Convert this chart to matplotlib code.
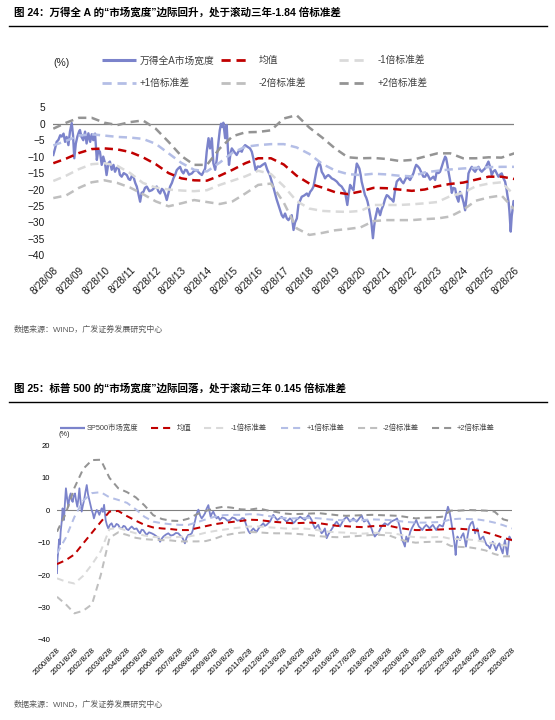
import matplotlib
matplotlib.use("Agg")
import matplotlib.pyplot as plt

plt.rcParams['font.family'] = ['Liberation Sans', 'Noto Sans CJK SC', 'DejaVu Sans']

# ---------------- Chart 1 data (x in years after 2008-08-28) ----------------
c1_xlabels = ['8/28/08', '8/28/09', '8/28/10', '8/28/11', '8/28/12', '8/28/13', '8/28/14',
              '8/28/15', '8/28/16', '8/28/17', '8/28/18', '8/28/19', '8/28/20', '8/28/21',
              '8/28/22', '8/28/23', '8/28/24', '8/28/25', '8/28/26']
c1_t = [0.00, 0.07, 0.13, 0.20, 0.27, 0.33, 0.40, 0.46, 0.52, 0.59, 0.65, 0.72, 0.77, 0.82, 0.88, 0.94,
        1.00, 1.04, 1.10, 1.17, 1.24, 1.30, 1.37, 1.44, 1.50, 1.56, 1.63, 1.70, 1.76, 1.82, 1.89, 1.95,
        2.02, 2.08, 2.15, 2.21, 2.28, 2.35, 2.41, 2.47, 2.54, 2.60, 2.67, 2.75, 2.87, 2.94, 3.00, 3.07,
        3.13, 3.20, 3.26, 3.33, 3.39, 3.45, 3.52, 3.58, 3.65, 3.75, 3.85, 3.95, 4.04, 4.10, 4.17, 4.24,
        4.30, 4.37, 4.43, 4.50, 4.56, 4.63, 4.69, 4.76, 4.82, 4.89, 4.95, 5.02, 5.08, 5.15, 5.21, 5.30,
        5.41, 5.50, 5.60, 5.70, 5.80, 5.87, 5.93, 5.99, 6.06, 6.12, 6.19, 6.25, 6.32, 6.38, 6.45, 6.50,
        6.55, 6.60, 6.64, 6.71, 6.77, 6.82, 6.86, 6.92, 6.97, 7.06, 7.16, 7.26, 7.36, 7.42, 7.49, 7.58,
        7.68, 7.75, 7.81, 7.90, 7.98, 8.07, 8.17, 8.27, 8.36, 8.45, 8.53, 8.60, 8.66, 8.72, 8.79, 8.86,
        8.92, 8.98, 9.05, 9.12, 9.18, 9.25, 9.31, 9.38, 9.44, 9.51, 9.57, 9.63, 9.70, 9.80, 9.90, 9.96,
        10.03, 10.10, 10.16, 10.22, 10.29, 10.35, 10.39, 10.44, 10.48, 10.55, 10.61, 10.67, 10.74, 10.80,
        10.87, 10.97, 11.07, 11.16, 11.26, 11.33, 11.39, 11.44, 11.48, 11.54, 11.59, 11.65, 11.72, 11.78,
        11.85, 11.90, 11.95, 12.00, 12.04, 12.10, 12.17, 12.22, 12.27, 12.32, 12.37, 12.42, 12.48, 12.53,
        12.57, 12.62, 12.66, 12.71, 12.76, 12.82, 12.89, 12.95, 13.02, 13.08, 13.15, 13.21, 13.28, 13.34,
        13.41, 13.48, 13.54, 13.60, 13.67, 13.74, 13.80, 13.86, 13.93, 14.00, 14.06, 14.12, 14.17, 14.24,
        14.30, 14.38, 14.45, 14.52, 14.58, 14.65, 14.71, 14.78, 14.84, 14.91, 14.97, 15.04, 15.10, 15.17,
        15.23, 15.30, 15.34, 15.39, 15.43, 15.49, 15.56, 15.62, 15.69, 15.75, 15.82, 15.88, 15.95, 16.02,
        16.08, 16.14, 16.21, 16.27, 16.34, 16.40, 16.47, 16.53, 16.60, 16.66, 16.73, 16.80, 16.86, 16.93,
        16.99, 17.05, 17.12, 17.18, 17.25, 17.31, 17.38, 17.44, 17.51, 17.57, 17.64, 17.69, 17.73, 17.78,
        17.81, 17.86, 17.90, 17.94, 17.97, 18.00]
c1_breadth = [-9.5, -7.5, -5.5, -4.9, -3.5, -3.9, -3.0, -5.5, -4.0, -6.5, -2.4, 0.2, -3.5, -10.5, -6.0, -3.9,
              -2.5, -1.9, -4.0, -5.0, -2.4, -6.0, -2.9, -5.5, -3.2, -5.0, -3.0, -11.0, -8.0, -8.5, -12.5, -10.0,
              -12.0, -15.6, -12.0, -11.5, -14.0, -12.5, -14.6, -13.5, -13.1, -15.5, -16.1, -15.0, -15.6, -16.8, -17.1, -15.8,
              -16.1, -18.0, -19.1, -21.5, -23.7, -21.0, -20.7, -19.5, -19.1, -20.5, -20.2, -19.5, -19.1, -20.5, -21.2, -19.8,
              -20.2, -21.5, -23.2, -21.0, -19.1, -18.0, -16.6, -15.5, -14.1, -13.5, -13.1, -14.5, -15.1, -14.0, -14.1, -15.5,
              -15.1, -14.3, -14.1, -15.0, -15.6, -14.5, -13.6, -8.5, -4.4, -7.5, -4.4, -12.0, -14.0, -11.0, -5.5, -2.0,
              0.0, -1.0, 0.3, -4.4, -0.4, -8.0, -12.5, -9.0, -7.5, -8.5, -9.5, -8.0, -8.5, -7.2, -6.5, -7.0,
              -7.5, -8.5, -10.5, -14.1, -13.0, -13.1, -12.5, -12.0, -14.1, -15.5, -17.6, -19.5, -21.2, -23.0, -24.7, -26.5,
              -27.8, -28.5, -27.3, -28.8, -29.3, -28.5, -27.8, -32.3, -30.0, -28.8, -24.7, -23.5, -22.2, -21.8, -21.2, -22.0,
              -20.7, -20.0, -19.1, -16.5, -13.6, -12.5, -11.7, -13.0, -14.6, -15.5, -16.6, -16.0, -15.6, -16.0,
              -16.6, -17.0, -17.6, -18.5, -19.1, -20.0, -20.7, -23.0, -24.7, -21.0, -18.6, -19.5, -20.2, -16.0,
              -12.1, -12.8, -13.6, -15.5, -17.6, -19.5, -21.7, -22.5, -23.7, -25.5, -27.8, -30.0, -34.8, -31.0,
              -28.8, -27.0, -25.7, -26.5, -27.8, -26.0, -24.7, -23.0, -21.7, -22.0, -22.7, -23.0, -23.7, -20.5,
              -17.6, -17.0, -16.6, -17.5, -18.1, -17.0, -16.1, -16.5, -17.1, -16.0, -15.1, -13.5, -12.5, -13.0,
              -13.6, -15.0, -16.1, -16.1, -15.1, -16.0, -17.0, -16.5, -16.1, -17.1, -14.6, -15.0, -14.6, -13.0,
              -11.5, -10.0, -10.5, -12.6, -14.6, -17.1, -21.0, -19.5, -19.7, -22.2, -23.7, -20.7, -22.0, -24.0,
              -26.3, -22.0, -15.1, -14.0, -13.1, -14.0, -14.6, -13.8, -13.1, -14.0, -14.6, -14.0, -13.6, -12.5,
              -11.5, -13.0, -15.6, -14.5, -14.1, -15.0, -16.1, -15.5, -15.1, -16.5, -17.6, -19.5, -21.7, -24.0,
              -26.7, -32.8, -28.0, -25.7, -23.5, -23.7]

c1_band_t = [0, 0.5, 1, 1.5, 2, 2.5, 3, 3.5, 4, 4.5, 5, 5.5, 6, 6.5, 7, 7.5, 8, 8.5, 9, 9.5,
             10, 10.5, 11, 11.5, 12, 12.5, 13, 13.5, 14, 14.5, 15, 15.5, 16, 16.5, 17, 17.5, 18]
c1_mean = [-12.0, -10.6, -8.9, -7.7, -7.5, -7.8, -8.6, -10.2, -12.3, -15.0, -16.6, -17.2, -17.3, -15.8,
           -14.0, -12.0, -10.5, -10.5, -12.4, -15.8, -18.2, -19.4, -20.8, -21.4, -20.6, -19.5, -19.6,
           -20.0, -20.4, -20.0, -19.0, -18.3, -17.9, -17.0, -16.1, -16.1, -16.8]
c1_minus1 = [-17.4, -15.8, -13.8, -12.3, -12.0, -12.8, -15.0, -18.0, -19.4, -20.0, -20.3, -20.5, -20.2,
             -18.6, -17.3, -16.0, -14.3, -15.3, -19.0, -23.5, -25.8, -26.5, -26.7, -26.8, -26.5, -24.7,
             -24.7, -24.7, -24.5, -24.2, -23.8, -22.0, -21.0, -19.0, -18.2, -17.8, -21.7]
c1_plus1 = [-6.6, -5.2, -3.6, -3.2, -3.6, -4.0, -4.2, -4.6, -6.1, -9.0, -11.9, -14.0, -14.5, -11.8,
            -8.8, -7.0, -6.5, -6.2, -6.2, -7.2, -9.2, -12.2, -14.2, -15.3, -15.6, -15.2, -15.4, -15.8,
            -16.0, -14.8, -14.3, -13.9, -13.6, -13.4, -13.2, -13.1, -13.1]
c1_minus2 = [-22.6, -21.8, -19.5, -17.8, -17.2, -18.0, -19.4, -21.4, -23.6, -25.1, -24.2, -23.2, -23.8,
             -24.4, -23.6, -21.2, -18.6, -18.2, -24.0, -31.8, -33.8, -33.2, -32.4, -32.0, -31.5, -29.6,
             -29.3, -29.3, -29.3, -29.0, -28.8, -28.2, -26.2, -23.4, -22.4, -21.8, -26.0]
c1_plus2 = [-1.5, 0.3, 1.8, 1.8, 0.3, -0.4, 0.5, 1.0, -1.5, -5.5, -9.8, -12.5, -12.5, -7.5, -3.8,
            -2.6, -2.5, -2.0, 1.6, 2.6, -1.2, -4.2, -7.5, -10.2, -10.5, -10.4, -10.7, -11.3, -11.0,
            -10.0, -9.0, -9.0, -10.5, -10.5, -10.2, -10.3, -9.0]

# ---------------- Chart 2 data (x in years after 2000-08-28) ----------------
c2_xlabels = ['2000/8/28', '2001/8/28', '2002/8/28', '2003/8/28', '2004/8/28', '2005/8/28', '2006/8/28',
              '2007/8/28', '2008/8/28', '2009/8/28', '2010/8/28', '2011/8/28', '2012/8/28', '2013/8/28',
              '2014/8/28', '2015/8/28', '2016/8/28', '2017/8/28', '2018/8/28', '2019/8/28', '2020/8/28',
              '2021/8/28', '2022/8/28', '2023/8/28', '2024/8/28', '2025/8/28', '2026/8/28']
c2_t = [0.00, 0.03, 0.06, 0.12, 0.17, 0.21, 0.27, 0.32, 0.36, 0.40, 0.45, 0.51, 0.58, 0.65, 0.71, 0.78,
        0.84, 0.90, 0.96, 1.03, 1.09, 1.16, 1.22, 1.28, 1.35, 1.41, 1.48, 1.55, 1.62, 1.70, 1.77, 1.85,
        1.92, 1.98, 2.05, 2.11, 2.19, 2.27, 2.35, 2.42, 2.49, 2.55, 2.62, 2.69, 2.74, 2.78, 2.85, 2.93,
        3.02, 3.12, 3.21, 3.31, 3.40, 3.50, 3.60, 3.70, 3.80, 3.89, 3.98, 4.08, 4.17, 4.27, 4.41, 4.55,
        4.65, 4.74, 4.84, 4.93, 5.02, 5.12, 5.26, 5.41, 5.55, 5.70, 5.80, 5.89, 5.98, 6.08, 6.22, 6.36,
        6.50, 6.65, 6.79, 6.93, 7.05, 7.18, 7.25, 7.31, 7.40, 7.50, 7.60, 7.70, 7.77, 7.83, 7.90, 7.96,
        8.02, 8.08, 8.17, 8.27, 8.36, 8.46, 8.55, 8.65, 8.72, 8.78, 8.85, 8.93, 9.02, 9.12, 9.21, 9.31,
        9.45, 9.60, 9.74, 9.88, 10.02, 10.17, 10.31, 10.46, 10.58, 10.69, 10.78, 10.88, 10.95, 11.03,
        11.12, 11.22, 11.31, 11.41, 11.50, 11.60, 11.70, 11.79, 11.88, 11.98, 12.07, 12.17, 12.26, 12.36,
        12.47, 12.59, 12.72, 12.84, 12.98, 13.12, 13.22, 13.31, 13.41, 13.50, 13.60, 13.70, 13.79, 13.89,
        14.03, 14.17, 14.27, 14.36, 14.46, 14.55, 14.65, 14.74, 14.84, 14.93, 15.03, 15.12, 15.22, 15.31,
        15.36, 15.41, 15.50, 15.60, 15.70, 15.79, 15.88, 15.98, 16.07, 16.17, 16.27, 16.36, 16.46, 16.55,
        16.65, 16.74, 16.84, 16.93, 17.02, 17.12, 17.20, 17.27, 17.34, 17.40, 17.47, 17.54, 17.64, 17.73,
        17.85, 17.97, 18.06, 18.16, 18.25, 18.35, 18.45, 18.54, 18.64, 18.73, 18.82, 18.91, 19.00, 19.10,
        19.20, 19.29, 19.36, 19.43, 19.50, 19.58, 19.65, 19.73, 19.80, 19.88, 19.92, 19.96, 20.00, 20.05,
        20.12, 20.19, 20.28, 20.38, 20.45, 20.53, 20.60, 20.68, 20.78, 20.87, 20.98, 21.10, 21.20, 21.29,
        21.38, 21.48, 21.57, 21.67, 21.76, 21.86, 21.95, 22.05, 22.13, 22.20, 22.27, 22.34, 22.43, 22.50,
        22.57, 22.63, 22.69, 22.74, 22.78, 22.83, 22.88, 22.95, 23.03, 23.12, 23.22, 23.30, 23.37, 23.46,
        23.56, 23.65, 23.75, 23.82, 23.89, 23.95, 24.02, 24.10, 24.17, 24.27, 24.36, 24.45, 24.55, 24.65,
        24.74, 24.82, 24.90, 25.00, 25.09, 25.18, 25.28, 25.37, 25.47, 25.53, 25.60, 25.66, 25.73, 25.79,
        25.85, 25.92, 25.98]
c2_breadth = [-19.4, -15.0, -13.3, -9.0, -10.5, -6.6, -3.5, 0.6, -1.5, -3.0, 2.0, 6.8, 3.5, 1.1, 4.0, 5.2,
              3.0, 2.6, 4.5, 5.2, 3.0, 1.1, 3.5, 6.8, 2.5, -0.4, 1.5, 3.2, 5.5, 7.8, 5.0, 3.2,
              1.5, 0.1, -1.0, -2.5, -1.0, 0.1, -0.5, -1.4, -0.3, 0.6, -0.5, 1.7, -1.0, -3.0, -4.5, -5.6,
              -4.5, -4.0, -5.2, -5.0, -4.2, -4.5, -5.5, -5.6, -4.8, -5.0, -5.8, -6.1, -5.5, -5.0, -5.8, -5.6,
              -6.5, -7.1, -6.0, -6.1, -6.8, -7.6, -6.8, -7.1, -7.5, -8.1, -8.5, -9.7, -8.8, -8.1, -7.5, -7.1,
              -7.8, -7.6, -7.0, -7.1, -7.8, -8.6, -9.5, -10.2, -8.5, -7.6, -7.5, -7.1, -6.0, -4.5, -3.0, -1.5,
              -0.5, 0.2, -1.5, -2.5, -1.8, -0.9, 0.5, 1.6, -0.5, -2.0, -1.0, -0.4, -1.5, -2.5, -2.0, -3.0,
              -2.2, -2.5, -3.2, -3.0, -2.2, -2.5, -3.2, -3.0, -2.4, -2.5, -4.0, -5.6, -6.5, -7.1,
              -6.2, -5.6, -6.2, -6.6, -5.8, -5.0, -4.5, -4.0, -4.8, -4.5, -4.0, -3.5, -2.5, -1.4,
              -2.2, -3.0, -2.5, -2.0, -2.8, -3.5, -3.0, -2.5, -3.0, -4.0, -3.5, -2.8, -2.5, -2.0,
              -2.5, -3.0, -2.2, -1.5, -2.2, -3.0, -4.5, -5.6, -5.0, -4.5, -6.0, -7.1, -6.5, -5.6,
              -7.0, -8.6, -7.5, -6.6, -5.8, -5.0, -4.2, -3.5, -4.2, -5.0, -4.0, -3.0, -2.5, -2.0,
              -2.8, -3.5, -3.0, -2.5, -3.0, -3.5, -3.0, -2.5, -2.0, -1.5, -2.5, -3.5, -3.2, -3.0,
              -4.2, -5.6, -7.0, -8.1, -7.5, -7.1, -6.0, -5.0, -4.5, -4.0, -4.3, -4.5, -4.0, -3.5,
              -3.2, -3.0, -2.8, -2.5, -3.5, -5.0, -7.0, -9.2, -10.0, -11.2, -9.5, -8.1, -8.8, -9.7,
              -8.0, -6.6, -5.5, -4.5, -3.8, -3.0, -4.0, -5.0, -5.5, -6.1, -5.2, -4.5, -5.0, -5.6,
              -5.0, -4.5, -5.3, -6.1, -5.2, -4.5, -4.8, -5.0, -3.5, -2.0, -0.5, 1.1, -0.4, -2.5,
              -5.0, -7.0, -9.2, -11.5, -13.8, -10.5, -8.1, -8.8, -9.2, -8.0, -7.1, -9.0, -11.2, -8.0,
              -5.0, -4.0, -3.5, -5.0, -7.1, -6.2, -5.6, -7.5, -9.2, -8.5, -8.1, -9.5, -10.7, -11.0,
              -11.8, -10.5, -9.7, -11.0, -12.3, -11.0, -10.2, -11.8, -13.3, -11.0, -9.2, -11.5, -13.8, -11.0,
              -8.1, -8.8, -9.2]

c2_band_t = [0, 0.5, 1, 1.5, 2, 2.5, 3, 3.5, 4, 4.5, 5, 5.5, 6, 6.5, 7, 7.5, 8, 8.5, 9, 9.5,
             10, 10.5, 11, 11.5, 12, 12.5, 13, 13.5, 14, 14.5, 15, 15.5, 16, 16.5, 17, 17.5, 18, 18.5,
             19, 19.5, 20, 20.5, 21, 21.5, 22, 22.5, 23, 23.5, 24, 24.5, 25, 25.5, 26]
c2_mean = [-16.6, -15.4, -13.6, -10.2, -6.9, -3.6, -0.4, -0.2, -1.8, -3.2, -4.5, -5.3, -5.6, -5.8,
           -6.1, -6.1, -5.5, -4.9, -4.3, -3.9, -3.6, -3.3, -2.9, -3.0, -3.3, -3.6, -3.8, -4.0, -3.9,
           -3.8, -4.0, -4.4, -4.8, -4.9, -5.1, -5.2, -4.9, -4.8, -4.8, -5.4, -5.8, -6.1, -6.1, -6.0,
           -5.9, -5.7, -5.7, -5.9, -6.2, -6.8, -7.6, -8.5, -9.2]
c2_minus1 = [-21.0, -22.0, -22.6, -20.2, -16.7, -12.6, -5.8, -5.4, -6.3, -7.1, -7.8, -8.2, -8.4, -8.4,
             -8.2, -8.1, -7.6, -6.9, -6.4, -6.0, -5.6, -5.3, -5.0, -5.0, -5.2, -5.4, -5.6, -5.7, -5.6,
             -5.8, -6.2, -6.6, -6.8, -6.9, -7.1, -7.2, -7.0, -6.9, -7.0, -7.4, -8.0, -8.3, -8.4, -8.3,
             -8.2, -8.8, -8.9, -9.0, -9.3, -9.8, -10.3, -10.8, -11.0]
c2_plus1 = [-13.3, -8.5, -2.0, 3.0, 5.3, 5.6, 4.0, 3.2, 2.3, 0.3, -2.0, -3.5, -4.0, -4.3, -4.5, -4.5,
            -3.7, -2.8, -2.0, -1.5, -1.4, -1.4, -1.2, -1.3, -1.7, -2.1, -2.4, -2.5, -2.4, -2.3, -2.5,
            -2.8, -3.0, -3.1, -3.1, -3.0, -2.8, -2.9, -3.0, -3.3, -3.6, -3.8, -3.8, -3.7, -3.6, -2.8,
            -2.6, -2.7, -2.8, -3.2, -3.8, -4.6, -5.6]
c2_minus2 = [-26.7, -29.0, -31.8, -31.0, -29.0, -20.0, -8.5, -6.8, -7.6, -8.5, -8.9, -9.1, -9.2, -9.3,
             -9.6, -9.6, -9.6, -9.5, -8.8, -7.8, -7.3, -6.9, -6.7, -6.8, -7.0, -7.1, -7.1, -7.2, -7.4,
             -7.7, -8.0, -8.2, -8.3, -8.2, -8.0, -7.8, -7.6, -7.6, -7.8, -8.8, -9.6, -10.0, -9.8, -9.7,
             -9.7, -11.0, -11.3, -11.4, -11.8, -12.4, -13.5, -14.2, -14.2]
c2_plus2 = [-6.6, -1.0, 7.0, 12.8, 15.5, 15.6, 10.0, 6.8, 5.6, 4.0, 1.5, -1.5, -2.7, -3.2, -3.3, -2.6,
            -1.2, -0.2, 0.6, 1.1, 0.8, 0.3, 0.2, 0.6, 0.0, -0.5, -1.0, -1.2, -1.1, -1.0, -0.9, -1.2,
            -1.5, -1.7, -1.6, -1.5, -1.4, -1.5, -1.6, -1.7, -2.1, -2.5, -2.3, -2.2, -2.0, -0.1, -0.1,
            0.1, 0.0, -0.1, -0.4, -2.8, -3.5]

# ---------------- styles ----------------
BLUE = '#7B83CB'
RED = '#C00000'
M1 = '#DADADA'
P1 = '#B4BEE6'
M2 = '#BFBFBF'
P2 = '#949494'

W, H = 555, 720
fig = plt.figure(figsize=(W / 100, H / 100), dpi=100)


def axes_px(x0, x1, ytop, ybot):
    return fig.add_axes([x0 / W, (H - ybot) / H, (x1 - x0) / W, (ybot - ytop) / H])


def style_axes(ax):
    for s in ax.spines.values():
        s.set_visible(False)
    ax.tick_params(length=0)


# ---------- chart 1 ----------
ax1 = axes_px(53.3, 514.3, 107.3, 255.3)
style_axes(ax1)
ax1.axhline(0, color='#808080', lw=0.9, zorder=1)
lw_d1 = 1.8
dash1 = (3.3, 2.1)
ax1.plot(c1_t, c1_breadth, color=BLUE, lw=1.7, zorder=2, solid_joinstyle='round')
ax1.plot(c1_band_t, c1_mean, color=RED, lw=lw_d1, dashes=dash1, zorder=3)
ax1.plot(c1_band_t, c1_minus1, color=M1, lw=lw_d1, dashes=dash1, zorder=3)
ax1.plot(c1_band_t, c1_plus1, color=P1, lw=lw_d1, dashes=dash1, zorder=3)
ax1.plot(c1_band_t, c1_minus2, color=M2, lw=lw_d1, dashes=dash1, zorder=3)
ax1.plot(c1_band_t, c1_plus2, color=P2, lw=lw_d1, dashes=dash1, zorder=3)
ax1.set_xlim(0, 18)
ax1.set_ylim(-40, 5)
ax1.set_yticks(range(-40, 6, 5))
ax1.set_xticks(range(len(c1_xlabels)))
ax1.set_xticklabels(c1_xlabels, rotation=45, ha='right', va='top', rotation_mode='anchor')
ax1.tick_params(axis='y', labelsize=7.3, pad=6, labelcolor='#1a1a1a')
ax1.tick_params(axis='x', labelsize=7.3, pad=7, labelcolor='#1a1a1a')

# ---------- chart 2 ----------
ax2 = axes_px(57, 512, 445.5, 639.9)
style_axes(ax2)
ax2.axhline(0, color='#808080', lw=0.8, zorder=1)
lw_d2 = 1.45
dash2 = (3.4, 2.4)
ax2.plot(c2_t, c2_breadth, color=BLUE, lw=1.3, zorder=2, solid_joinstyle='round')
ax2.plot(c2_band_t, c2_mean, color=RED, lw=lw_d2, dashes=dash2, zorder=3)
ax2.plot(c2_band_t, c2_minus1, color=M1, lw=lw_d2, dashes=dash2, zorder=3)
ax2.plot(c2_band_t, c2_plus1, color=P1, lw=lw_d2, dashes=dash2, zorder=3)
ax2.plot(c2_band_t, c2_minus2, color=M2, lw=lw_d2, dashes=dash2, zorder=3)
ax2.plot(c2_band_t, c2_plus2, color=P2, lw=lw_d2, dashes=dash2, zorder=3)
ax2.set_xlim(0, 26)
ax2.set_ylim(-40, 20)
ax2.set_yticks(range(-40, 21, 10))
ax2.set_xticks(range(len(c2_xlabels)))
ax2.set_xticklabels(c2_xlabels, rotation=45, ha='right', va='top', rotation_mode='anchor')
ax2.tick_params(axis='y', labelsize=5.5, pad=5, labelcolor='black')
ax2.tick_params(axis='x', labelsize=5.7, pad=5, labelcolor='black')

# ---------- overlay for titles, legends, sources ----------
ov = fig.add_axes([0, 0, 1, 1], zorder=-1)
ov.set_xlim(0, W)
ov.set_ylim(H, 0)
ov.axis('off')

ov.text(13.5, 12.7, '图 24：万得全 A 的“市场宽度”边际回升，处于滚动三年-1.84 倍标准差',
        fontsize=7.6, fontweight='bold', ha='left', va='center', color='black')
ov.plot([8.9, 547], [26, 26], color='black', lw=1.0)
ov.text(13.5, 388.3, '图 25：标普 500 的“市场宽度”边际回落，处于滚动三年 0.145 倍标准差',
        fontsize=7.6, fontweight='bold', ha='left', va='center', color='black')
ov.plot([8.9, 547], [402.3, 402.3], color='black', lw=1.0)

src = '数据来源：WIND，广发证券发展研究中心'
ov.text(13.5, 330, src, fontsize=5.8, color='#595959', ha='left', va='center')
ov.text(13.5, 705, src, fontsize=5.8, color='#595959', ha='left', va='center')

# legend chart 1
legend1 = [
    (101.7, 135.7, 60.3, BLUE, None, 139.2, '万得全A市场宽度'),
    (220.7, 249.7, 60.3, RED, dash1, 258.6, '均值'),
    (339.4, 368.4, 60.3, M1, dash1, 377.3, '-1倍标准差'),
    (101.7, 135.7, 82.7, P1, dash1, 139.2, '+1倍标准差'),
    (220.7, 249.7, 82.7, M2, dash1, 258.6, '-2倍标准差'),
    (339.4, 368.4, 82.7, P2, dash1, 378.0, '+2倍标准差'),
]
for x0, x1, y, c, d, tx, lab in legend1:
    if d is None:
        ov.plot([x0, x1], [y, y], color=c, lw=2.2, solid_capstyle='butt')
    else:
        ov.plot([x0, x1], [y, y], color=c, lw=2.0, dashes=d)
    ov.text(tx, y, lab, fontsize=7.0, color='#404040', ha='left', va='center')
ov.text(53, 63.3, '(%)', fontsize=7.5, color='#262626', ha='left', va='center')

# legend chart 2
legend2 = [
    (60.2, 85.0, BLUE, None, 86.8, 'SP500市场宽度'),
    (150.5, 173.6, RED, dash2, 177.1, '均值'),
    (203.7, 226.7, M1, dash2, 230.3, '-1倍标准差'),
    (281.0, 304.6, P1, dash2, 306.4, '+1倍标准差'),
    (357.8, 380.8, M2, dash2, 382.6, '-2倍标准差'),
    (432.0, 454.0, P2, dash2, 457.0, '+2倍标准差'),
]
for x0, x1, c, d, tx, lab in legend2:
    if d is None:
        ov.plot([x0, x1], [428.3, 428.3], color=c, lw=1.6, solid_capstyle='butt')
    else:
        ov.plot([x0, x1], [428.3, 428.3], color=c, lw=1.5, dashes=d)
    ov.text(tx, 428.3, lab, fontsize=5.3, color='#404040', ha='left', va='center')
ov.text(58.4, 434.8, '(%)', fontsize=5.3, color='#262626', ha='left', va='center')

fig.savefig('out.png', dpi=100)
